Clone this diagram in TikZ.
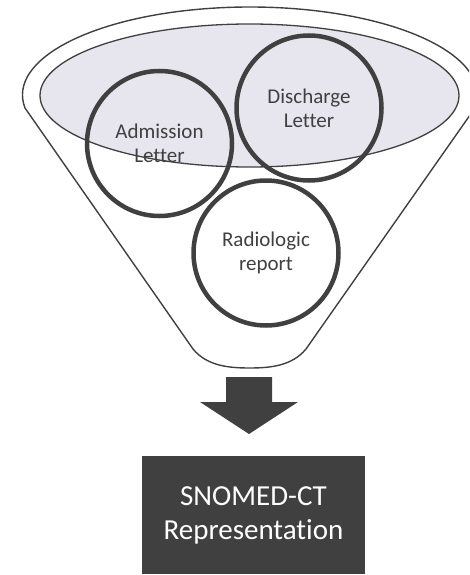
\documentclass[tikz,border=0pt]{standalone}
\usepackage{fontspec}
\setmainfont{Carlito}[Ligatures=NoCommon]
\definecolor{dk}{RGB}{64,64,64}
\definecolor{lav}{RGB}{231,230,239}
\begin{document}
\begin{tikzpicture}[x=1pt,y=-1pt,
  funnel/.style={draw=dk,line width=1.4pt,line join=round},
  bowl/.style={draw=dk,fill=lav,line width=1.3pt},
  doc/.style={circle,draw=dk,line width=4.5pt,minimum size=145pt,inner sep=0pt,text=dk,align=center,font=\fontsize{21}{24}\selectfont},
  result/.style={rectangle,fill=dk,text=white,minimum width=223pt,minimum height=118pt,inner sep=0pt,align=center,font=\fontsize{29}{34}\selectfont},
  blockarrow/.style={fill=dk}]
\useasboundingbox (0,0) rectangle (469,575);
\begin{scope}
\clip (0,0) rectangle (469,575);
\draw[funnel] (25,108) arc[start angle=171.5,end angle=368.5,x radius=227.5,y radius=88]
  -- (306,349) .. controls (292,366) and (270,368) .. (249.5,368)
  .. controls (229,368) and (207,366) .. (193,349) -- cycle;
\end{scope}
\draw[bowl] (249.5,95.5) ellipse [x radius=209.5,y radius=71.5];
\node[doc] (adm) at (159.5,143.5) {Admission\\Letter};
\node[doc] (dis) at (309,108) {Discharge\\Letter};
\node[doc] (rad) at (266,253) {Radiologic\\report};
\fill[blockarrow] (226,377) -- (272,377) -- (272,402) -- (298,402) -- (249,434) -- (200,402) -- (226,402) -- cycle;
\node[result] (snomed) at (253.5,515) {SNOMED-CT\\Representation};
\end{tikzpicture}
\end{document}
